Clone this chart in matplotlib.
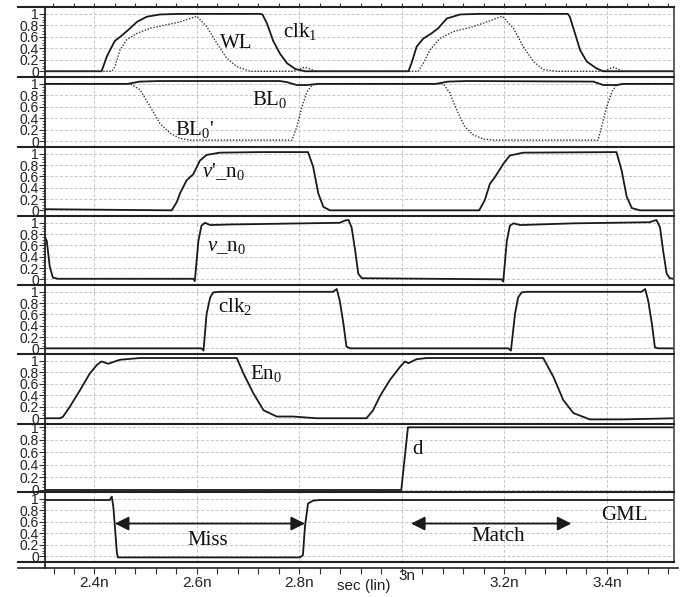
import numpy as np
import matplotlib
matplotlib.use("Agg")
import matplotlib.pyplot as plt
from matplotlib.lines import Line2D
from matplotlib.patches import ArrowStyle
from matplotlib.ticker import FixedLocator, NullFormatter

plt.rcParams['font.family'] = ['Liberation Sans', 'DejaVu Sans']
plt.rcParams['mathtext.fontset'] = 'custom'
plt.rcParams['mathtext.rm'] = 'Liberation Serif'
plt.rcParams['mathtext.it'] = 'Liberation Serif:italic'
plt.rcParams['mathtext.default'] = 'rm'

# ---------------- data (time in ns, voltage normalised) ----------------
clk1_t = [2.304, 2.414, 2.424, 2.430, 2.440, 2.453, 2.466, 2.483, 2.502, 2.528, 2.567, 2.723, 2.728,
          2.737, 2.749, 2.762, 2.776, 2.792, 2.811, 3.013, 3.019, 3.029, 3.042, 3.058, 3.071, 3.088,
          3.114, 3.150, 3.324, 3.328, 3.338, 3.348, 3.361, 3.380, 3.393, 3.531]
clk1_v = [0, 0, 0.25, 0.36, 0.53, 0.62, 0.72, 0.86, 0.95, 0.99, 1.0, 1.0, 0.99,
          0.83, 0.53, 0.31, 0.14, 0.04, 0, 0, 0.14, 0.43, 0.57, 0.66, 0.75, 0.92,
          0.99, 1.0, 1.0, 0.95, 0.66, 0.37, 0.17, 0.05, 0.0, 0.0]

wl_t = [2.304, 2.434, 2.440, 2.450, 2.463, 2.483, 2.509, 2.541, 2.567, 2.600, 2.619, 2.639, 2.658,
        2.678, 2.704, 2.788, 2.811, 2.834, 3.032, 3.042, 3.055, 3.074, 3.100, 3.140, 3.166, 3.196,
        3.218, 3.237, 3.257, 3.276, 3.302, 3.393, 3.413, 3.432, 3.531]
wl_v = [0, 0, 0.08, 0.37, 0.55, 0.66, 0.75, 0.81, 0.86, 0.96, 0.78, 0.49, 0.23,
        0.08, 0, 0, 0.07, 0, 0, 0.14, 0.37, 0.57, 0.69, 0.78, 0.86, 0.96,
        0.75, 0.43, 0.17, 0.03, 0, 0, 0.07, 0, 0]

bl0_t = [2.304, 2.464, 2.489, 2.528, 2.762, 2.776, 2.795, 2.815, 2.835, 3.066, 3.090, 3.128,
         3.374, 3.393, 3.419, 3.432, 3.531]
bl0_v = [1.0, 1.0, 1.04, 1.05, 1.05, 1.03, 0.98, 0.98, 1.0, 1.0, 1.04, 1.05,
         1.04, 0.98, 0.98, 1.0, 1.0]

bl0b_t = [2.304, 2.470, 2.489, 2.509, 2.528, 2.548, 2.567, 2.587, 2.786, 2.795, 2.805, 2.815, 2.825,
          2.840, 3.081, 3.094, 3.107, 3.123, 3.140, 3.159, 3.179, 3.383, 3.390, 3.400, 3.410, 3.419,
          3.432, 3.531]
bl0b_v = [1, 1, 0.90, 0.60, 0.31, 0.14, 0.05, 0.02, 0.02, 0.25, 0.60, 0.86, 0.98,
          1, 1, 0.84, 0.55, 0.25, 0.11, 0.04, 0.02, 0.02, 0.25, 0.60, 0.86, 0.98,
          1, 1]

vpn_t = [2.304, 2.551, 2.561, 2.567, 2.580, 2.593, 2.606, 2.619, 2.645, 2.723, 2.817, 2.827, 2.837,
         2.847, 2.860, 3.151, 3.162, 3.172, 3.182, 3.198, 3.211, 3.237, 3.419, 3.429, 3.439, 3.449,
         3.465, 3.531]
vpn_v = [0.02, 0.0, 0.15, 0.30, 0.53, 0.64, 0.88, 0.98, 1.02, 1.03, 1.03, 0.77, 0.30,
         0.06, 0.0, 0.0, 0.18, 0.47, 0.59, 0.82, 0.97, 1.02, 1.03, 0.71, 0.24, 0.04,
         0.0, 0.0]

vn_t = [2.304, 2.307, 2.313, 2.319, 2.329, 2.593, 2.596, 2.603, 2.609, 2.616, 2.626, 2.665, 2.879,
        2.889, 2.896, 2.902, 2.909, 2.915, 2.922, 3.195, 3.198, 3.205, 3.211, 3.218, 3.231, 3.335,
        3.484, 3.497, 3.504, 3.510, 3.517, 3.523, 3.531]
vn_v = [0.74, 0.68, 0.22, 0.03, 0.01, 0.01, -0.03, 0.68, 0.95, 1.0, 0.96, 0.97, 1.0,
        1.04, 1.05, 0.92, 0.51, 0.10, 0.02, 0.0, -0.04, 0.68, 0.95, 0.99, 0.96, 0.99,
        1.01, 1.05, 0.92, 0.51, 0.10, 0.02, 0.01]

clk2_t = [2.304, 2.609, 2.613, 2.619, 2.626, 2.632, 2.645, 2.866, 2.873, 2.879, 2.886, 2.892, 2.899,
          3.208, 3.213, 3.221, 3.227, 3.234, 3.245, 3.468, 3.475, 3.481, 3.488, 3.494, 3.500, 3.531]
clk2_v = [0, 0, -0.04, 0.61, 0.90, 0.99, 1.0, 1.0, 1.05, 0.84, 0.44, 0.03, 0,
          0, -0.04, 0.61, 0.90, 0.99, 1.0, 1.0, 1.05, 0.84, 0.44, 0.02, 0, 0]

en_t = [2.304, 2.333, 2.339, 2.352, 2.372, 2.391, 2.405, 2.414, 2.427, 2.450, 2.489, 2.678, 2.691,
        2.710, 2.730, 2.756, 2.788, 2.834, 2.931, 2.944, 2.957, 2.977, 2.996, 3.006, 3.013, 3.029,
        3.049, 3.276, 3.296, 3.315, 3.335, 3.367, 3.432, 3.531]
en_v = [0, 0, 0.03, 0.20, 0.49, 0.78, 0.93, 0.99, 0.95, 1.02, 1.05, 1.05, 0.78,
        0.44, 0.14, 0.03, 0.03, 0, 0, 0.14, 0.38, 0.67, 0.89, 0.99, 0.96, 1.03,
        1.05, 1.05, 0.72, 0.32, 0.09, -0.02, -0.02, 0]

d_t = [2.304, 2.999, 3.012, 3.531]
d_v = [0, 0, 1, 1]

gml_t = [2.304, 2.430, 2.434, 2.437, 2.440, 2.444, 2.446, 2.801, 2.807, 2.811, 2.817, 2.827, 2.840, 3.531]
gml_v = [0.98, 0.98, 1.04, 0.86, 0.52, 0.05, -0.02, -0.02, 0.02, 0.52, 0.92, 0.97, 0.98, 0.98]

miss_span = (2.440, 2.811)
match_span = (3.018, 3.331)
arrow_level = 0.57

ytick_vals = [0, 0.2, 0.4, 0.6, 0.8, 1.0]
ytick_labels = ['0', '0.2', '0.4', '0.6', '0.8', '1']
xtick_vals = [2.4, 2.6, 2.8, 3.0, 3.2, 3.4]
xtick_labels = ['2.4n', '2.6n', '2.8n', '', '3.2n', '3.4n']

# ---------------- layout ----------------
W, H = 691, 597
fig = plt.figure(figsize=(W / 100, H / 100), dpi=100)
fig.patch.set_facecolor('white')

def fy(px):
    return 1 - px / H

edges = [7, 77, 147, 216, 285, 354, 424, 492, 562]
XL = (2.3036, 3.5313)
LC = '#1a1a1a'
solid = dict(color=LC, lw=1.3)
dotted = dict(color='#333333', lw=1.0, linestyle=(0, (1, 1.2)))
serif = dict(family='Liberation Serif', fontsize=15, color='#111111')

axes = []
for i in range(8):
    top, bot = edges[i], edges[i + 1]
    ax = fig.add_axes([45 / W, fy(bot), 629 / W, (bot - top) / H])
    ax.set_xlim(*XL)
    if i == 6:
        ax.set_ylim(-0.032, 1.053)
    else:
        ax.set_ylim(-0.1, 1.12)
    ax.set_xticks(xtick_vals)
    ax.xaxis.set_minor_locator(FixedLocator(list(np.arange(2.32, 3.53, 0.04))))
    ax.tick_params(axis='x', which='both', bottom=False, labelbottom=False,
                   top=(i == 0), direction='out', length=3, width=0.8, color='#333333')
    ax.set_yticks(ytick_vals)
    ax.set_yticklabels(ytick_labels)
    ax.yaxis.set_minor_locator(FixedLocator(list(np.arange(0, 1.01, 0.05))))
    ax.tick_params(axis='y', which='major', length=4, width=0.8, pad=0.5,
                   labelsize=10, labelcolor='#222222', color='#333333')
    ax.tick_params(axis='y', which='minor', length=2.2, width=0.6, color='#333333')
    ax.grid(True, which='major', color='#c4c4c4', lw=0.7, linestyle=(0, (3, 2)))
    ax.set_axisbelow(True)
    for s in ('top', 'bottom', 'left'):
        ax.spines[s].set_visible(False)
    ax.spines['right'].set_color('#444444')
    ax.spines['right'].set_linewidth(1.2)
    axes.append(ax)

# panel 1
axes[0].plot(clk1_t, clk1_v, **solid)
axes[0].plot(wl_t, wl_v, **dotted)
axes[0].text(2.7677, 0.60, 'clk$_1$', **serif)
axes[0].text(2.6455, 0.40, 'WL', **serif)
# panel 2
axes[1].plot(bl0b_t, bl0b_v, **dotted)
axes[1].plot(bl0_t, bl0_v, **solid)
axes[1].text(2.7075, 0.63, 'BL$_0$', **serif)
axes[1].text(2.5573, 0.11, "BL$_0$'", **serif)
# panel 3
axes[2].plot(vpn_t, vpn_v, **solid)
axes[2].text(2.610, 0.585, r"$\mathit{v}$'_n$_0$", **serif)
# panel 4
axes[3].plot(vn_t, vn_v, **solid)
axes[3].text(2.620, 0.51, r"$\mathit{v}$_n$_0$", **serif)
# panel 5
axes[4].plot(clk2_t, clk2_v, **solid)
axes[4].text(2.641, 0.64, 'clk$_2$', **serif)
# panel 6
axes[5].plot(en_t, en_v, **solid)
axes[5].text(2.7036, 0.68, 'En$_0$', **serif)
# panel 7
axes[6].plot(d_t, d_v, **solid)
axes[6].text(3.0196, 0.57, 'd', **serif)
# panel 8
ax8 = axes[7]
ax8.plot(gml_t, gml_v, **solid)
astyle = ArrowStyle('<|-|>', head_length=0.6, head_width=0.3)
for span in (miss_span, match_span):
    ax8.annotate('', xy=(span[1], arrow_level), xytext=(span[0], arrow_level),
                 arrowprops=dict(arrowstyle=astyle, color=LC, lw=1.3,
                                 mutation_scale=14, shrinkA=0, shrinkB=0))
ax8.text(2.5807, 0.20, 'Miss', **serif)
ax8.text(3.1363, 0.27, 'Match', **serif)
ax8.text(3.3887, 0.64, 'GML', **serif)

# separators and left axis line
for y in edges:
    fig.add_artist(Line2D([18 / W, 674 / W], [fy(y), fy(y)], color='#222222', lw=1.5))
fig.add_artist(Line2D([18 / W, 678 / W], [fy(568), fy(568)], color='#222222', lw=1.2))
fig.add_artist(Line2D([45 / W, 45 / W], [fy(7), fy(568)], color='#222222', lw=1.3))

# time axis
axt = fig.add_axes([18 / W, fy(568), 660 / W, 0.0005])
axt.set_xlim(2.2507, 3.539)
axt.set_yticks([])
axt.patch.set_visible(False)
for s in axt.spines.values():
    s.set_visible(False)
axt.set_xticks(xtick_vals)
axt.set_xticklabels(xtick_labels)
axt.xaxis.set_minor_locator(FixedLocator(list(np.arange(2.32, 3.53, 0.04))))
axt.xaxis.set_minor_formatter(NullFormatter())
axt.tick_params(axis='x', which='both', direction='out', length=4, width=0.8,
                color='#333333', labelsize=11, labelcolor='#222222', pad=1.5)
# the "3n" label sits a little higher, next to the axis title
fig.text(407 / W, fy(576), '3n', ha='center', va='center', fontsize=11, color='#222222')
fig.text(364 / W, fy(586), 'sec (lin)', ha='center', va='center', fontsize=11, color='#222222')

fig.savefig('out.png', dpi=100)
